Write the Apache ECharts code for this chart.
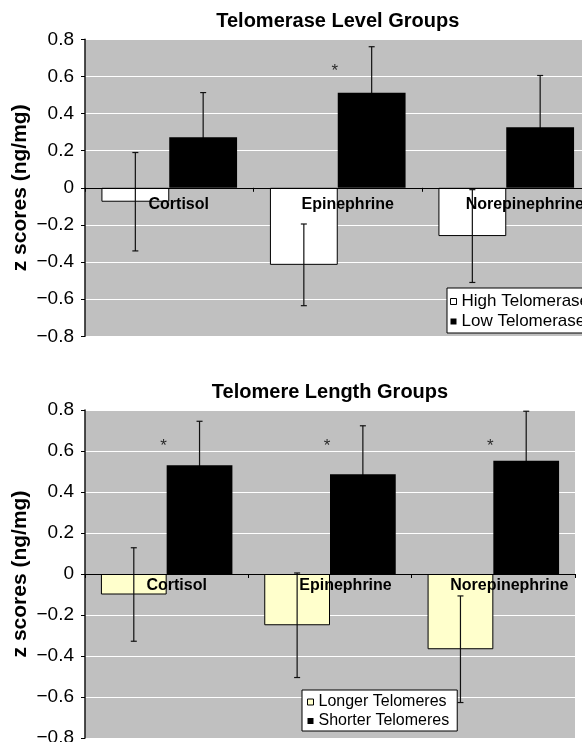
<!DOCTYPE html>
<html><head><meta charset="utf-8">
<script src="https://cdn.jsdelivr.net/npm/echarts/dist/echarts.min.js"></script>
<style>html,body{margin:0;padding:0;background:#fff}#c{width:582px;height:742px}</style>
</head><body><div id="c"></div>
<script>
// ---- data ----
const categories = ['Cortisol', 'Epinephrine', 'Norepinephrine'];
const yMin = -0.8, yMax = 0.8, yStep = 0.2;

const titleTop = 'Telomerase Level Groups';
const titleBottom = 'Telomere Length Groups';
const yAxisTitle = 'z scores (ng/mg)';

const highTelomerase    = [-0.075, -0.415, -0.26];
const highTelomeraseErr = [0.265, 0.22, 0.25];
const lowTelomerase     = [0.272, 0.512, 0.326];
const lowTelomeraseErr  = [0.241, 0.248, 0.279];
const telomeraseStars   = [null, 0.644, null];

const longerTelomeres     = [-0.10, -0.25, -0.367];
const longerTelomeresErr  = [0.228, 0.255, 0.26];
const shorterTelomeres    = [0.53, 0.486, 0.553];
const shorterTelomeresErr = [0.215, 0.237, 0.241];
const lengthStars         = [0.638, 0.638, 0.638];

// ---- styling ----
const FONT = '"Liberation Sans", Arial, Helvetica, sans-serif';
const GAP = 0.195;
const topPads = [19, 20, 37], botPads = [20, 31, 32];
const G0 = { left: 85, top: 39.3, width: 505.5, height: 297 };
const G1 = { left: 85, top: 410, width: 490, height: 328 };

function catData(pads) {
  return categories.map((c, i) => ({ value: c, textStyle: { padding: [0, 0, 0, pads[i]] } }));
}
function fmt(v) {
  const r = Math.round(v * 10) / 10;
  if (r === 0) return '0';
  return (r < 0 ? '\u2212' : '') + Math.abs(r).toFixed(1);
}
function yAxis(gi) {
  return {
    gridIndex: gi, type: 'value', min: yMin, max: yMax, interval: yStep,
    axisLine: { show: true, lineStyle: { color: '#222', width: 1.6 } },
    axisTick: { show: true, length: 4, lineStyle: { color: '#000', width: 1 } },
    axisLabel: { margin: 11, fontSize: 19, color: '#000', fontFamily: FONT, formatter: fmt },
    splitLine: { show: true, lineStyle: { color: '#fff', width: 1.2 } },
    name: yAxisTitle, nameLocation: 'middle', nameGap: 54, nameRotate: 90, nameMoveOverlap: false,
    nameTextStyle: { fontSize: 21, fontWeight: 'bold', color: '#000', fontFamily: FONT }
  };
}
function xAxis(gi, pads, margin, g) {
  // place the category axis at value 0 of the y scale
  const zeroFrac = (yMax - 0) / (yMax - yMin);
  const off = -(g.height * (1 - zeroFrac));
  return {
    gridIndex: gi, type: 'category', data: catData(pads), z: 5, position: 'bottom', offset: off,
    axisLine: { show: true, onZero: false, lineStyle: { color: '#000', width: 1 } },
    axisTick: { show: true, interval: 0, length: 4, alignWithLabel: false, lineStyle: { color: '#000' } },
    axisLabel: { interval: 0, margin: margin, fontSize: 16, fontWeight: 'bold', color: '#000', fontFamily: FONT },
    splitLine: { show: false }
  };
}
function barSeries(gi, name, data, color) {
  return {
    type: 'bar', name: name, xAxisIndex: gi, yAxisIndex: gi, data: data,
    barGap: '0%', barCategoryGap: (GAP * 100) + '%', z: 2,
    itemStyle: { color: color, borderColor: '#000', borderWidth: color === '#000' ? 0 : 1 },
    emphasis: { disabled: true }
  };
}
function errSeries(gi, vals, errs, side, z) {
  return {
    type: 'custom', xAxisIndex: gi, yAxisIndex: gi, z: z, silent: true,
    encode: { x: 0, y: 1 },
    data: vals.map((v, i) => [i, v, errs[i]]),
    renderItem: function (params, api) {
      const i = api.value(0), v = api.value(1), e = api.value(2);
      const band = api.size([1, 0])[0];
      const bw = band * (1 - GAP) / 2;
      const c = api.coord([i, v]);
      const x = c[0] + side * bw / 2;
      const t = api.coord([i, v + e])[1], b = api.coord([i, v - e])[1];
      const st = { stroke: '#111', lineWidth: 1.2 };
      return { type: 'group', children: [
        { type: 'line', shape: { x1: x, y1: t, x2: x, y2: b }, style: st },
        { type: 'line', shape: { x1: x - 3, y1: t, x2: x + 3, y2: t }, style: st },
        { type: 'line', shape: { x1: x - 3, y1: b, x2: x + 3, y2: b }, style: st }
      ]};
    }
  };
}
function starSeries(gi, stars) {
  return {
    type: 'scatter', xAxisIndex: gi, yAxisIndex: gi, z: 6, silent: true,
    symbolSize: 1, itemStyle: { color: 'rgba(0,0,0,0)' },
    data: stars.map((v, i) => v == null ? null : [i, v]).filter(d => d),
    label: { show: true, formatter: '*', position: 'inside', offset: [-3, 3], fontSize: 17, color: '#000', fontFamily: FONT }
  };
}
function legend(left, top, items, fs, pad, gap) {
  return {
    orient: 'vertical', left: left, top: top, data: items, selectedMode: false,
    backgroundColor: '#fff', borderColor: '#000', borderWidth: 1, borderRadius: 0,
    padding: pad, itemGap: gap, itemWidth: 6, itemHeight: 6, icon: 'rect',
    textStyle: { fontSize: fs, color: '#000', fontFamily: FONT, lineHeight: fs }
  };
}

const chart = echarts.init(document.getElementById('c'), null, { renderer: 'canvas' });
chart.setOption({
  animation: false,
  backgroundColor: '#fff',
  textStyle: { fontFamily: FONT },
  graphic: [
    { type: 'text', x: 337.75, y: 21.7, style: { text: titleTop, align: 'center', verticalAlign: 'middle', font: 'bold 20px ' + FONT, fill: '#000' } },
    { type: 'text', x: 330, y: 392.5, style: { text: titleBottom, align: 'center', verticalAlign: 'middle', font: 'bold 20px ' + FONT, fill: '#000' } }
  ],
  grid: [
    Object.assign({ show: true, backgroundColor: '#c0c0c0', borderWidth: 0, containLabel: false, outerBoundsMode: 'none' }, G0),
    Object.assign({ show: true, backgroundColor: '#c0c0c0', borderWidth: 0, containLabel: false, outerBoundsMode: 'none' }, G1)
  ],
  xAxis: [xAxis(0, topPads, 9, G0), xAxis(1, botPads, 4, G1)],
  yAxis: [yAxis(0), yAxis(1)],
  legend: [
    legend(447, 288, [
      { name: 'High Telomerase', itemStyle: { color: '#fff', borderColor: '#000', borderWidth: 1 } },
      { name: 'Low Telomerase', itemStyle: { color: '#000', borderWidth: 0 } }
    ], 17, [5, 10, 3, 3], 3),
    legend(302, 690, [
      { name: 'Longer Telomeres', itemStyle: { color: '#ffffcc', borderColor: '#000', borderWidth: 1 } },
      { name: 'Shorter Telomeres', itemStyle: { color: '#000', borderWidth: 0 } }
    ], 16, [4, 8, 2, 5], 3)
  ],
  series: [
    barSeries(0, 'High Telomerase', highTelomerase, '#fff'),
    barSeries(0, 'Low Telomerase', lowTelomerase, '#000'),
    errSeries(0, highTelomerase, highTelomeraseErr, -1, 4),
    errSeries(0, lowTelomerase, lowTelomeraseErr, 1, 1),
    starSeries(0, telomeraseStars),
    barSeries(1, 'Longer Telomeres', longerTelomeres, '#ffffcc'),
    barSeries(1, 'Shorter Telomeres', shorterTelomeres, '#000'),
    errSeries(1, longerTelomeres, longerTelomeresErr, -1, 4),
    errSeries(1, shorterTelomeres, shorterTelomeresErr, 1, 1),
    starSeries(1, lengthStars)
  ]
});
</script>
</body></html>
